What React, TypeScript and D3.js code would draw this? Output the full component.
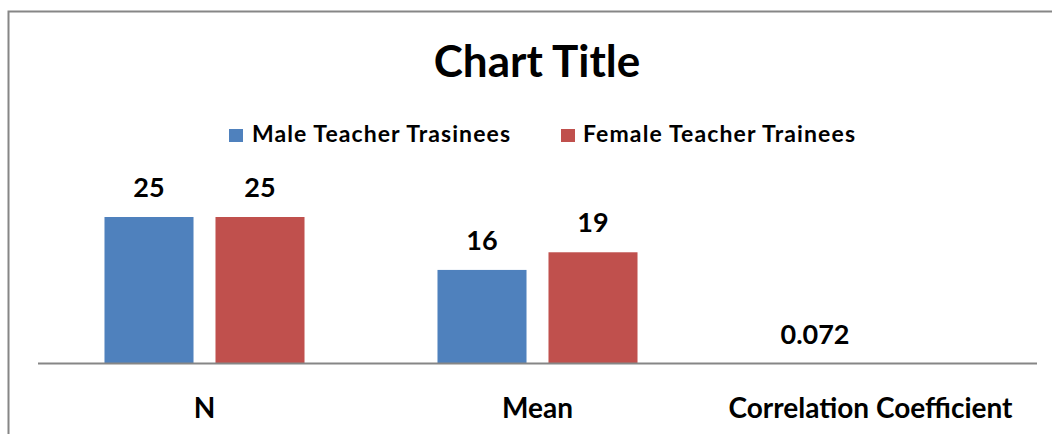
import React from 'react'
import * as d3 from 'd3'

const categories = ['N', 'Mean', 'Correlation Coefficient']
const seriesNames = ['Male Teacher Trasinees', 'Female Teacher Trainees']
const seriesColors = ['#4f81bd', '#c0504d']
const maleValues = [25, 16, 0.072]
const femaleValues: (number | null)[] = [25, 19, null]
const valueLabels = [['25', '16', '0.072'], ['25', '19', '']]

const W = 1052
const H = 434
const FONT = 'Lato, "Open Sans", sans-serif'

export default function App() {
  const x = d3.scaleBand<string>().domain(categories).range([38, 1037]).paddingInner(0).paddingOuter(0)
  const xs = d3
    .scaleBand<number>()
    .domain([0, 1])
    .range([0, x.bandwidth()])
    .paddingInner(0.198)
    .paddingOuter(0.599)
  const y = d3.scaleLinear().domain([0, 30]).range([364, 187.6])

  const series = [maleValues, femaleValues]

  return (
    <svg width={W} height={H} style={{position: 'absolute', left: 0, top: 0}} fontFamily={FONT}>
      <rect x={0} y={0} width={W} height={H} fill="#fff" />
      {/* chart area border, cut by page edges */}
      <path d={`M8.5,${H} V11.5 H${W}`} fill="none" stroke="#868686" strokeWidth={2} />

      <text x={537} y={77} textAnchor="middle" fontSize={44} fontWeight="bold">
        Chart Title
      </text>

      {/* legend */}
      <g fontSize={23} fontWeight="bold">
        <rect x={229} y={129} width={14} height={13} fill={seriesColors[0]} />
        <text x={252} y={142} textLength={258} lengthAdjust="spacing">{seriesNames[0]}</text>
        <rect x={561} y={129} width={14} height={13} fill={seriesColors[1]} />
        <text x={583} y={142} textLength={272} lengthAdjust="spacing">{seriesNames[1]}</text>
      </g>

      {series.map((vals, si) => (
        <g key={si}>
          {categories.map((c, ci) => {
            const v = vals[ci]
            if (v === null) return null
            const bx = (x(c) as number) + (xs(si) as number)
            return (
              <g key={c}>
                <rect x={bx} y={y(v)} width={xs.bandwidth()} height={y(0) - y(v)} fill={seriesColors[si]} />
                <text x={bx + xs.bandwidth() / 2} y={y(v) - 20} textAnchor="middle" fontSize={27} fontWeight="bold">
                  {valueLabels[si][ci]}
                </text>
              </g>
            )
          })}
        </g>
      ))}

      <line x1={38} x2={1037} y1={363.5} y2={363.5} stroke="#868686" strokeWidth={2} />

      {categories.map(c => (
        <text key={c} x={(x(c) as number) + x.bandwidth() / 2} y={418} textAnchor="middle" fontSize={28} fontWeight="bold">
          {c}
        </text>
      ))}
    </svg>
  )
}
